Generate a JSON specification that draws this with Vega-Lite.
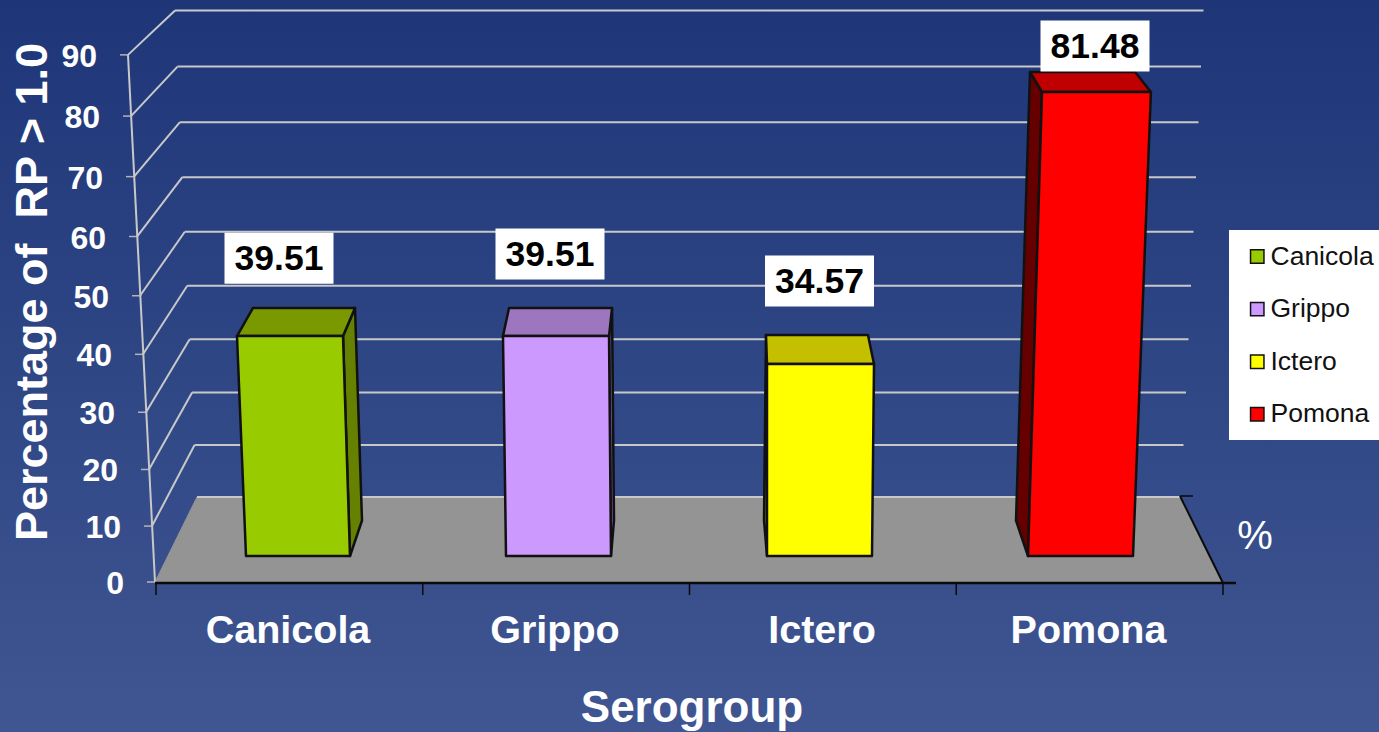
{
"$schema":"https://vega.github.io/schema/vega-lite/v6.json",
"width":1379,"height":732,"padding":0,"autosize":{"type":"none"},
"background":"#2c4583",
"config":{"view":{"stroke":null},"axis":{"disable":true},"text":{"font":"Liberation Sans"}},
"datasets":{
"bars":[{"serogroup":"Canicola","value":39.51},{"serogroup":"Grippo","value":39.51},{"serogroup":"Ictero","value":34.57},{"serogroup":"Pomona","value":81.48}],
"ticks":[{"tick":0},{"tick":10},{"tick":20},{"tick":30},{"tick":40},{"tick":50},{"tick":60},{"tick":70},{"tick":80},{"tick":90}],
"floor":[{"corner":0},{"corner":1},{"corner":2},{"corner":3}],
"boundaries":[{"boundary":0},{"boundary":1},{"boundary":2},{"boundary":3},{"boundary":4}]
},
"layer":[
{"data":{"values":[{"part":"background"}]},
 "mark":{"type":"rect","fill":{"gradient":"linear","x1":0,"y1":0,"x2":0,"y2":1,"stops":[{"offset":0,"color":"#1e3678"},{"offset":1,"color":"#405692"}]}},
 "encoding":{
  "x":{"datum":0,"type":"quantitative","scale":{"domain":[0,1379],"nice":false,"zero":false}},"x2":{"datum":1379},
  "y":{"datum":0,"type":"quantitative","scale":{"domain":[0,732],"reverse":true,"nice":false,"zero":false}},"y2":{"datum":732}}},
{"data":{"name":"floor"},
 "transform":[{"calculate":"[155,197,1181,1222][datum.corner]","as":"px"},{"calculate":"[582,497,497,582][datum.corner]","as":"py"}],
 "mark":{"type":"line","interpolate":"linear-closed","fill":"#949494","stroke":"#949494","strokeWidth":1},
 "encoding":{"x":{"field":"px","type":"quantitative"},"y":{"field":"py","type":"quantitative"},"order":{"field":"corner","type":"quantitative"}}},
{"data":{"name":"ticks"},
 "transform":[
  {"calculate":"155-0.3*datum.tick","as":"fx"},
  {"calculate":"582-datum.tick*(5.56+0.0033*datum.tick)","as":"fy"},
  {"calculate":"197-0.244*datum.tick","as":"bx"},
  {"calculate":"497-datum.tick*(5.18+0.0025*datum.tick)","as":"by"},
  {"calculate":"1181+0.25*datum.tick","as":"rx"},
  {"calculate":"datum.fx-8","as":"tx"},
  {"calculate":"124-0.3*datum.tick","as":"lx"}],
 "layer":[
  {"mark":{"type":"rule","stroke":"#c8c8c8","strokeWidth":2},"encoding":{"x":{"field":"fx","type":"quantitative"},"x2":{"field":"bx"},"y":{"field":"fy","type":"quantitative"},"y2":{"field":"by"}},"transform":[{"filter":"datum.tick>0"}]},
  {"mark":{"type":"rule","stroke":"#c8c8c8","strokeWidth":2},"encoding":{"x":{"field":"bx","type":"quantitative"},"x2":{"field":"rx"},"y":{"field":"by","type":"quantitative"}}},
  {"mark":{"type":"rule","stroke":"#b4b4b4","strokeWidth":1.5},"encoding":{"x":{"field":"tx","type":"quantitative"},"x2":{"field":"fx"},"y":{"field":"fy","type":"quantitative"}}},
  {"mark":{"type":"text","align":"right","baseline":"middle","fontWeight":"bold","fontSize":32,"fill":"white","yOffset":2},"encoding":{"x":{"field":"lx","type":"quantitative"},"y":{"field":"fy","type":"quantitative"},"text":{"field":"tick","type":"quantitative"}}}
 ]},
{"data":{"values":[{"line":"value axis"}]},"mark":{"type":"rule","stroke":"#c8c8c8","strokeWidth":2},
 "encoding":{"x":{"datum":128,"type":"quantitative"},"x2":{"datum":155},"y":{"datum":55,"type":"quantitative"},"y2":{"datum":582}}},
{"data":{"values":[{"line":"base"}]},"mark":{"type":"rule","stroke":"#0a0a0a","strokeWidth":2.5},
 "encoding":{"x":{"datum":155,"type":"quantitative"},"x2":{"datum":1236},"y":{"datum":583,"type":"quantitative"}}},
{"data":{"values":[{"line":"right edge"}]},"mark":{"type":"rule","stroke":"#0a0a0a","strokeWidth":2},
 "encoding":{"x":{"datum":1180,"type":"quantitative"},"x2":{"datum":1223},"y":{"datum":496,"type":"quantitative"},"y2":{"datum":583}}},
{"data":{"values":[{"line":"back tick"}]},"mark":{"type":"rule","stroke":"#0a0a0a","strokeWidth":1.5},
 "encoding":{"x":{"datum":1180,"type":"quantitative"},"x2":{"datum":1193},"y":{"datum":496,"type":"quantitative"}}},
{"data":{"name":"boundaries"},
 "transform":[{"calculate":"156+266.75*datum.boundary","as":"bx"}],
 "mark":{"type":"rule","stroke":"#0a0a0a","strokeWidth":1.5},
 "encoding":{"x":{"field":"bx","type":"quantitative"},"y":{"datum":583,"type":"quantitative"},"y2":{"datum":595}}},
{"data":{"values":[{"part":"legend panel"}]},"mark":{"type":"rect","fill":"white"},
 "encoding":{"x":{"datum":1229,"type":"quantitative"},"x2":{"datum":1379},"y":{"datum":230,"type":"quantitative"},"y2":{"datum":440}}},
{"data":{"name":"bars"},
 "transform":[
  {"calculate":"indexof(['Canicola','Grippo','Ictero','Pomona'],datum.serogroup)","as":"i"},
  {"calculate":"[0,1,2,3,4,5,6,7,8,9,10,11]","as":"c"},
  {"flatten":["c"]},
  {"calculate":"floor(datum.c/4)","as":"f"},
  {"calculate":"datum.c%4","as":"k"},
  {"calculate":"[[0,1,1,0],[0,0,1,1],[0,0,0,0]][datum.f][datum.k]","as":"d"},
  {"calculate":"datum.f==0?(datum.i<2?1:0):[0,1,1,0][datum.k]","as":"s"},
  {"calculate":"[[0,0,1,1],[1,1,1,1],[0,0,1,1]][datum.f][datum.k]*datum.value","as":"h"},
  {"calculate":"[[[246,506,767,1028],[350,611,872,1133]],[[262,512,764,1016],[362,614,866,1118]]][datum.d][datum.s][datum.i]+datum.h*[[[-0.228,-0.076,0,0.172],[-0.177,-0.05,0.058,0.22]],[[-0.228,-0.076,0.058,0.172],[-0.177,-0.05,0.058,0.21]]][datum.d][datum.s][datum.i]","as":"px"},
  {"calculate":"datum.d==1?520.5-datum.h*(5.26+0.003*datum.h):556-datum.h*(5.448+0.00303*datum.h)","as":"py"},
  {"calculate":"['#668000','#7a58a8','#a6a600','#660000'][datum.i]","as":"sideColor"},
  {"calculate":"['#7a9900','#9c76be','#c4c000','#c00000'][datum.i]","as":"topColor"}
 ],
 "layer":[
  {"transform":[{"filter":"datum.f==0"}],"mark":{"type":"line","interpolate":"linear-closed","stroke":"#111111","strokeWidth":2.5,"strokeJoin":"round"},
   "encoding":{"x":{"field":"px","type":"quantitative"},"y":{"field":"py","type":"quantitative"},"order":{"field":"k","type":"quantitative"},"detail":{"field":"serogroup"},"fill":{"field":"sideColor","type":"nominal","scale":null}}},
  {"transform":[{"filter":"datum.f==1"}],"mark":{"type":"line","interpolate":"linear-closed","stroke":"#111111","strokeWidth":2.5,"strokeJoin":"round"},
   "encoding":{"x":{"field":"px","type":"quantitative"},"y":{"field":"py","type":"quantitative"},"order":{"field":"k","type":"quantitative"},"detail":{"field":"serogroup"},"fill":{"field":"topColor","type":"nominal","scale":null}}},
  {"transform":[{"filter":"datum.f==2"}],"mark":{"type":"line","interpolate":"linear-closed","stroke":"#111111","strokeWidth":2.5,"strokeJoin":"round"},
   "encoding":{"x":{"field":"px","type":"quantitative"},"y":{"field":"py","type":"quantitative"},"order":{"field":"k","type":"quantitative"},"detail":{"field":"serogroup"},
    "fill":{"field":"serogroup","type":"nominal","scale":{"domain":["Canicola","Grippo","Ictero","Pomona"],"range":["#99cc00","#cc99ff","#ffff00","#ff0000"]},
     "legend":{"title":null,"orient":"none","legendX":1228,"legendY":226,"padding":16,"symbolType":"square","symbolSize":180,"symbolStrokeColor":"#222222","symbolStrokeWidth":1.5,"labelFont":"Liberation Sans","labelFontSize":26.5,"labelColor":"#111111","labelOffset":0,"rowPadding":23.6,"clipHeight":29}}}}
 ]},
{"data":{"name":"bars"},
 "transform":[
  {"calculate":"indexof(['Canicola','Grippo','Ictero','Pomona'],datum.serogroup)","as":"i"},
  {"calculate":"[279,550,819.5,1095][datum.i]","as":"cx"},
  {"calculate":"556-datum.value*(5.448+0.00303*datum.value)-[77.7,82,83,46][datum.i]","as":"cy"},
  {"calculate":"datum.cx-54.5","as":"x0"},{"calculate":"datum.cx+54.5","as":"x1"},
  {"calculate":"datum.cy-25.5","as":"y0"},{"calculate":"datum.cy+25.5","as":"y1"},
  {"calculate":"[288,555,822,1088.5][datum.i]","as":"catx"}
 ],
 "layer":[
  {"mark":{"type":"rect","fill":"white"},"encoding":{"x":{"field":"x0","type":"quantitative"},"x2":{"field":"x1"},"y":{"field":"y0","type":"quantitative"},"y2":{"field":"y1"}}},
  {"mark":{"type":"text","fontWeight":"bold","fontSize":35.5,"fill":"black","baseline":"middle","align":"center","yOffset":1},"encoding":{"x":{"field":"cx","type":"quantitative"},"y":{"field":"cy","type":"quantitative"},"text":{"field":"value","type":"quantitative","format":".2f"}}},
  {"mark":{"type":"text","fontWeight":"bold","fontSize":39.5,"fill":"white","baseline":"middle","align":"center"},"encoding":{"x":{"field":"catx","type":"quantitative"},"y":{"datum":631,"type":"quantitative"},"text":{"field":"serogroup","type":"nominal"}}}
 ]},
{"data":{"values":[{"label":"Serogroup"}]},"mark":{"type":"text","fontWeight":"bold","fontSize":44,"fill":"white","baseline":"middle","align":"center"},
 "encoding":{"x":{"datum":692,"type":"quantitative"},"y":{"datum":709,"type":"quantitative"},"text":{"field":"label","type":"nominal"}}},
{"data":{"values":[{"label":"Percentage of \u00a0RP > 1.0"}]},"mark":{"type":"text","fontWeight":"bold","fontSize":45,"fill":"white","baseline":"middle","align":"center","angle":270},
 "encoding":{"x":{"datum":33,"type":"quantitative"},"y":{"datum":292,"type":"quantitative"},"text":{"field":"label","type":"nominal"}}},
{"data":{"values":[{"label":"%"}]},"mark":{"type":"text","fontSize":40,"fill":"white","baseline":"middle","align":"center"},
 "encoding":{"x":{"datum":1255,"type":"quantitative"},"y":{"datum":537,"type":"quantitative"},"text":{"field":"label","type":"nominal"}}}
]
}
